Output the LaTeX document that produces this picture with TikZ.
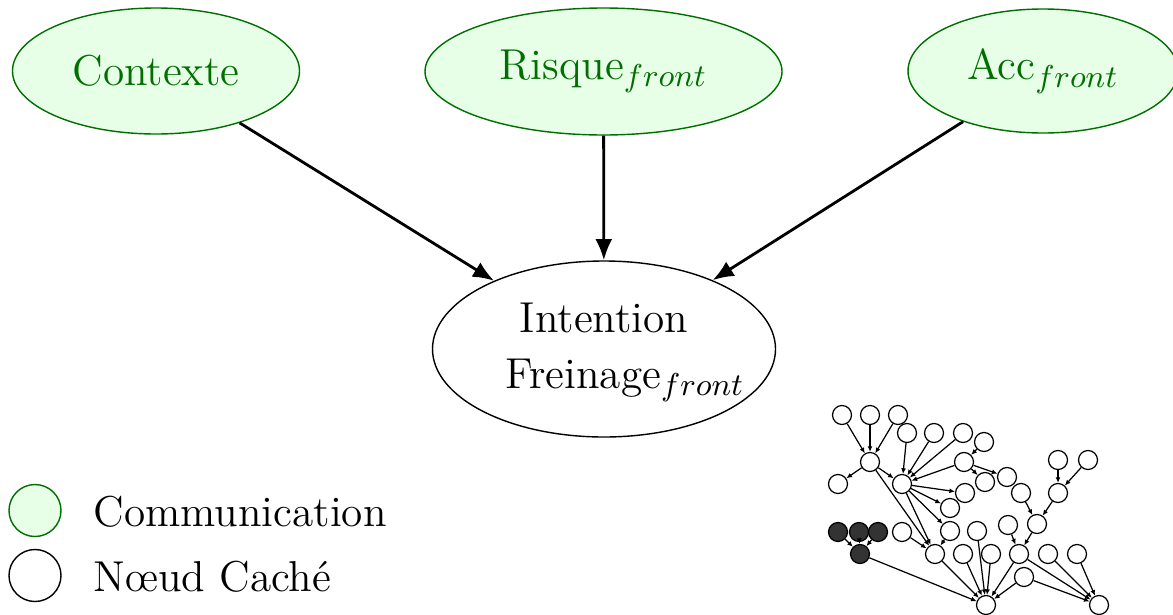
\documentclass[tikz,border=0pt]{standalone}
\usepackage{tikz}
\usepackage{amsmath}
\usepackage{xcolor}
\usetikzlibrary{shapes,arrows,arrows.meta,positioning,calc}
\definecolor{commgreen}{RGB}{0,110,0}
\definecolor{commfill}{RGB}{230,255,230}

\tikzset{
  comm/.style={ellipse, draw=commgreen, fill=commfill, text=commgreen},
  cache/.style={ellipse, draw},
  leaf/.style={circle, draw, fill=white, minimum size=0.19cm, inner sep=0pt, line width=0.35pt},
  darkleaf/.style={leaf, fill=black!80},
  treearc/.style={-{Latex[length=1.6pt,width=1.4pt]}, line width=0.35pt},
  mainarc/.style={-{Latex[length=6pt,width=4.8pt]}, thick},
}

\begin{document}
\begin{tikzpicture}[font=\fontsize{12.3}{16}\selectfont]
    \useasboundingbox (0,0) rectangle (11.73,6.14);
    % variables
    \node[comm, minimum width=2.87cm, minimum height=1.26cm] (ctx) at (1.56,5.43) {Contexte};
    \node[comm, minimum width=3.57cm, minimum height=1.27cm] (risk) at (6.035,5.425) {Risque$_{front}$};
    \node[comm, minimum width=2.70cm, minimum height=1.24cm] (acc) at (10.43,5.43) {Acc$_{front}$};
    \node[cache, inner sep=0pt, minimum width=3.43cm, minimum height=1.76cm] (intent) at (6.04,2.65)
        {\makebox[1.5cm]{\begin{tabular}{@{}c@{}}Intention\\\hspace*{0.42cm}Freinage$_{front}$\end{tabular}}};
    \draw[mainarc] (ctx) -- (intent);
    \draw[mainarc] (risk) -- (intent);
    \draw[mainarc] (acc) -- (intent);

    % legend
    \node[comm, circle, minimum size=0.52cm, inner sep=0pt] (legcom) at (0.35,1.035) {};
    \node[cache, circle, minimum size=0.52cm, inner sep=0pt] (legcache) at (0.35,0.385) {};
    \node[anchor=base west, inner sep=0pt] (legcomtxt) at (0.93,0.875) {Communication};
    \node[anchor=base west, inner sep=0pt] (legcachetxt) at (0.93,0.23) {Nœud Caché};

    % small network
    \foreach \n/\x/\y in {t1/8.42/1.99, t2/8.70/1.99, t3/8.98/1.99, t4/9.07/1.81, t5/9.34/1.81,
        t6/9.63/1.81, t7/9.84/1.72, hA/8.70/1.52, hB/9.64/1.52, t8/10.58/1.54, t9/10.88/1.54,
        t10/8.38/1.30, hC/9.02/1.30, t11/9.85/1.32, t12/10.07/1.37, t13/9.65/1.21, t14/10.21/1.21,
        t15/10.58/1.21, t16/9.50/1.06, t17/10.37/0.90, t18/9.02/0.82, t19/9.50/0.83, t20/9.77/0.83,
        t21/10.08/0.89, t22/9.35/0.60, t23/9.63/0.60, t24/9.91/0.60, t25/10.19/0.60, t26/10.48/0.60,
        t27/10.77/0.60, t28/10.24/0.37, b1/9.86/0.09, b2/10.99/0.09}
        \node[leaf] (\n) at (\x,\y) {};
    \foreach \n/\x/\y in {d1/8.38/0.82, d2/8.59/0.82, d3/8.78/0.82, d4/8.60/0.60}
        \node[darkleaf] (\n) at (\x,\y) {};
    \foreach \a/\b in {t1/hA, t2/hA, t3/hA, hA/t10, hA/hC, t4/hC, t5/hC, t6/hC, hB/hC, t7/hB,
        hB/t11, hB/t12, hC/t13, hC/t16, hC/t19, hC/t22, hA/t22, t18/t22, t19/t22, t14/t17,
        t15/t17, t8/t15, t9/t15, t21/t25, t17/t25, d1/d4, d2/d4, d3/d4, d4/b1, t22/b1, t23/b1,
        t20/b1, t24/b1, t25/b1, t28/b1, t25/b2, t26/b2, t27/b2, t28/b2}
        \draw[treearc] (\a) -- (\b);
\end{tikzpicture}
\end{document}
